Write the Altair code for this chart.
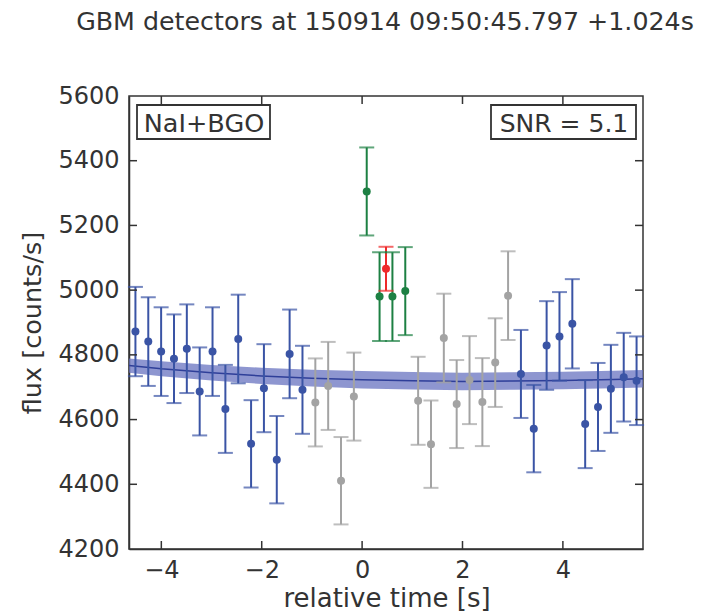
import altair as alt
import pandas as pd

# ---- data ----
times = [-4.516, -4.260, -4.004, -3.748, -3.492, -3.236, -2.980, -2.724, -2.468, -2.212,
         -1.956, -1.700, -1.444, -1.188, -0.932, -0.676, -0.420, -0.164, 0.092, 0.348,
         0.604, 0.860, 1.116, 1.372, 1.628, 1.884, 2.140, 2.396, 2.652, 2.908,
         3.164, 3.420, 3.676, 3.932, 4.188, 4.444, 4.700, 4.956, 5.212, 5.468]
flux = [4872, 4841, 4810, 4788, 4819, 4687, 4810, 4633, 4849, 4525,
        4697, 4476, 4803, 4692, 4653, 4704, 4411, 4671, 5305, 4980,
        4980, 4997, 4658, 4524, 4852, 4648, 4722, 4654, 4776, 4983,
        4741, 4572, 4829, 4857, 4896, 4586, 4639, 4695, 4731, 4720]
errors = [138, 137, 137, 137, 137, 136, 137, 136, 137, 135,
          136, 135, 137, 136, 136, 136, 135, 136, 136, 137,
          137, 136, 136, 135, 137, 136, 136, 136, 137, 137,
          136, 135, 137, 137, 138, 136, 136, 136, 137, 137]
kinds = (["fit"] * 14 + ["excluded"] * 4 + ["signal"] * 4 +
         ["excluded"] * 8 + ["fit"] * 10)

sum_time = [0.476]
sum_flux = [5066]
sum_err = [68]

bkg_times = [-4.644, -4.0, -3.0, -2.0, -1.0, 0.0, 1.0, 2.0, 3.0, 4.0, 5.0, 5.596]
bkg_flux = [4767, 4757, 4745, 4735, 4728, 4723, 4720, 4718, 4719, 4721, 4724, 4726]
bkg_half = [22, 23, 24, 25, 26, 27, 27, 27, 27, 27, 27, 27]

x_ticks = [-4, -2, 0, 2, 4]
y_ticks = [4200, 4400, 4600, 4800, 5000, 5200, 5400, 5600]

title_text = "GBM detectors at 150914 09:50:45.797 +1.024s"
box_left = "NaI+BGO"
box_right = "SNR = 5.1"

# ---- styling ----
W, H = 514, 453
FONT = "DejaVu Sans"
DARK = "#333333"
kind_domain = ["fit", "excluded", "signal", "summed"]
kind_range = ["#3a54a5", "#a3a3a3", "#1d8043", "#ee2a2a"]

pts = pd.DataFrame({"time": times, "flux": flux, "err": errors, "kind": kinds})
summ = pd.DataFrame({"time": sum_time, "flux": sum_flux, "err": sum_err,
                     "kind": ["summed"]})
data = pd.concat([pts, summ], ignore_index=True)
bkg = pd.DataFrame({"time": bkg_times, "flux": bkg_flux, "half": bkg_half})

xscale = alt.Scale(domain=[-4.644, 5.596], nice=False, zero=False)
yscale = alt.Scale(domain=[4200, 5600], nice=False, zero=False)
cscale = alt.Scale(domain=kind_domain, range=kind_range)

xaxis = alt.Axis(values=x_ticks, title=None, ticks=False, grid=False,
                 labelFont=FONT, labelFontSize=24, labelColor=DARK, labelPadding=9,
                 domainColor=DARK, domainWidth=1.5,
                 labelExpr="datum.value < 0 ? '\u2212' + abs(datum.value) : datum.label")
yaxis = alt.Axis(values=y_ticks, title=None, ticks=False, grid=False,
                 labelFont=FONT, labelFontSize=24, labelColor=DARK, labelPadding=10,
                 domainColor=DARK, domainWidth=1.5, format="d")


def X(field):
    return alt.X(field, scale=xscale, axis=xaxis)


def Y(field):
    return alt.Y(field, scale=yscale, axis=yaxis)


band = alt.Chart(bkg).transform_calculate(
    lo="datum.flux - datum.half", hi="datum.flux + datum.half"
).mark_area(color="#6873c0", opacity=0.75).encode(
    x=X("time:Q"), y=Y("lo:Q"), y2="hi:Q")

bline = alt.Chart(bkg).mark_line(color="#2f3f99", strokeWidth=1.5).encode(
    x=X("time:Q"), y=Y("flux:Q"))

errdata = alt.Chart(data).transform_calculate(
    lo="datum.flux - datum.err", hi="datum.flux + datum.err")

color = alt.Color("kind:N", scale=cscale, legend=None)

bars = errdata.mark_rule(strokeWidth=2).encode(
    x=X("time:Q"), y=Y("lo:Q"), y2="hi:Q", color=color)

cap_lo = errdata.mark_tick(orient="horizontal", size=15, thickness=2).encode(
    x=X("time:Q"), y=Y("lo:Q"), color=color)
cap_hi = errdata.mark_tick(orient="horizontal", size=15, thickness=2).encode(
    x=X("time:Q"), y=Y("hi:Q"), color=color)

points = alt.Chart(data).mark_circle(size=64, opacity=1).encode(
    x=X("time:Q"), y=Y("flux:Q"), color=color)

# inward ticks on all four sides
xt = pd.DataFrame({"time": x_ticks})
yt = pd.DataFrame({"flux": [v for v in y_ticks if 4200 < v < 5600]})
tick_style = dict(color=DARK, strokeWidth=1.5)
t_bottom = alt.Chart(xt).mark_rule(**tick_style).encode(
    x=X("time:Q"), y=alt.value(H), y2=alt.value(H - 8))
t_top = alt.Chart(xt).mark_rule(**tick_style).encode(
    x=X("time:Q"), y=alt.value(0), y2=alt.value(8))
t_left = alt.Chart(yt).mark_rule(**tick_style).encode(
    y=Y("flux:Q"), x=alt.value(0), x2=alt.value(8))
t_right = alt.Chart(yt).mark_rule(**tick_style).encode(
    y=Y("flux:Q"), x=alt.value(W), x2=alt.value(W - 8))

one = pd.DataFrame({"a": [0]})
box_style = dict(fill="white", stroke=DARK, strokeWidth=1.8)
box1 = alt.Chart(one).mark_rect(**box_style).encode(
    x=alt.value(8), x2=alt.value(141), y=alt.value(9), y2=alt.value(43))
box2 = alt.Chart(one).mark_rect(**box_style).encode(
    x=alt.value(362), x2=alt.value(507), y=alt.value(9), y2=alt.value(43))

txt = dict(font=FONT, color=DARK, baseline="alphabetic", align="center")
box1_t = alt.Chart(one).mark_text(fontSize=25.5, text=box_left, **txt).encode(
    x=alt.value(75), y=alt.value(35.5))
box2_t = alt.Chart(one).mark_text(fontSize=25, text=box_right, **txt).encode(
    x=alt.value(435), y=alt.value(35.5))
title_t = alt.Chart(one).mark_text(fontSize=25.3, text=title_text, **txt).encode(
    x=alt.value(256), y=alt.value(-66))
xtitle = alt.Chart(one).mark_text(fontSize=26, text="relative time [s]", **txt).encode(
    x=alt.value(258), y=alt.value(511))
ytitle = alt.Chart(one).mark_text(fontSize=25.5, text="flux [counts/s]", angle=270,
                                  font=FONT, color=DARK, baseline="middle",
                                  align="center").encode(
    x=alt.value(-96), y=alt.value(227))

chart = alt.layer(
    band, bline, bars, cap_lo, cap_hi, points,
    t_bottom, t_top, t_left, t_right,
    box1, box2, box1_t, box2_t, title_t, xtitle, ytitle
).properties(
    width=W, height=H,
    autosize=alt.AutoSizeParams(type="none"),
    padding={"left": 121, "top": 88, "right": 64, "bottom": 64},
    background="white",
).configure_view(stroke=DARK, strokeWidth=1.5)

chart.save("out.html", embed_options={"renderer": "svg", "actions": False})
